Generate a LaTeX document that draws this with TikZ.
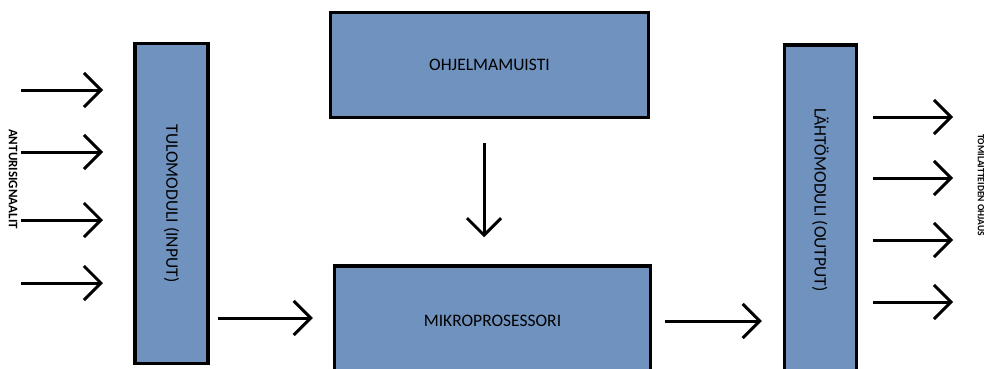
\documentclass[tikz,border=0pt]{standalone}
\usepackage{fontspec}
\setmainfont{Carlito}
\usetikzlibrary{positioning,arrows.meta}
\definecolor{blokblue}{RGB}{111,146,191}

\begin{document}
\begin{tikzpicture}[x=1pt, y=-1pt,
  blok/.style={draw=black, line width=3.5pt, fill=blokblue, inner sep=0pt, font=\fontsize{17.5}{21}\selectfont},
  teksti/.style={font=\fontsize{17.5}{21}\selectfont, inner sep=0pt},
  sivu/.style={font=\fontsize{13}{15}\selectfont\bfseries, inner sep=0pt},
  arr/.style={-{Straight Barb[length=17pt, width=34pt]}, line width=3pt, black}
]
\useasboundingbox (0,0) rectangle (985,369);

% lohkot
\node[blok, minimum width=318pt, minimum height=105pt] (ohjelma) at (489.5,65) {OHJELMAMUISTI};
\node[blok, minimum width=316pt, minimum height=110pt] (mikro) at (492.5,321) {MIKROPROSESSORI};
\node[blok, minimum width=73pt, minimum height=320pt] (tulo) at (171.5,203.5) {\rotatebox{-90}{TULOMODULI (INPUT)}};
\node[blok, minimum width=72pt, minimum height=329pt] (lahto) at (820.5,209.5) {};
\node[teksti, rotate=-90] (lahtoteksti) at ([yshift=9.5pt]lahto.center) {LÄHTÖMODULI (OUTPUT)};

% sivutekstit
\node[sivu, rotate=-90] (anturi) at (13,179) {ANTURISIGNAALIT};
\node[sivu, rotate=-90, font=\fontsize{9.5}{11}\selectfont\bfseries] (toimi) at (981,185) {TOMILAITTEIDEN OHJAUS};

% tulevat signaalit
\foreach \yy [count=\i] in {90,152,220,283} {
  \coordinate (ai\i) at (21,\yy);
  \coordinate (bi\i) at (103,\yy);
  \draw[arr] (ai\i) -- (bi\i);
}

% lahtevat signaalit
\foreach \yy [count=\i] in {117,178,240,302} {
  \coordinate (ao\i) at (873,\yy);
  \coordinate (bo\i) at (953,\yy);
  \draw[arr] (ao\i) -- (bo\i);
}

% sisaiset yhteydet
\draw[arr, shorten <=8pt, shorten >=20pt] (tulo.east |- 0,318) -- (mikro.west |- 0,318);
\draw[arr, shorten <=13pt, shorten >=21pt] (mikro.east) -- (lahto.west |- mikro.east);
\draw[arr, shorten <=24pt, shorten >=27pt] ([xshift=-5.5pt]ohjelma.south) -- ([xshift=-5.5pt]ohjelma.south |- mikro.north);
\end{tikzpicture}
\end{document}
